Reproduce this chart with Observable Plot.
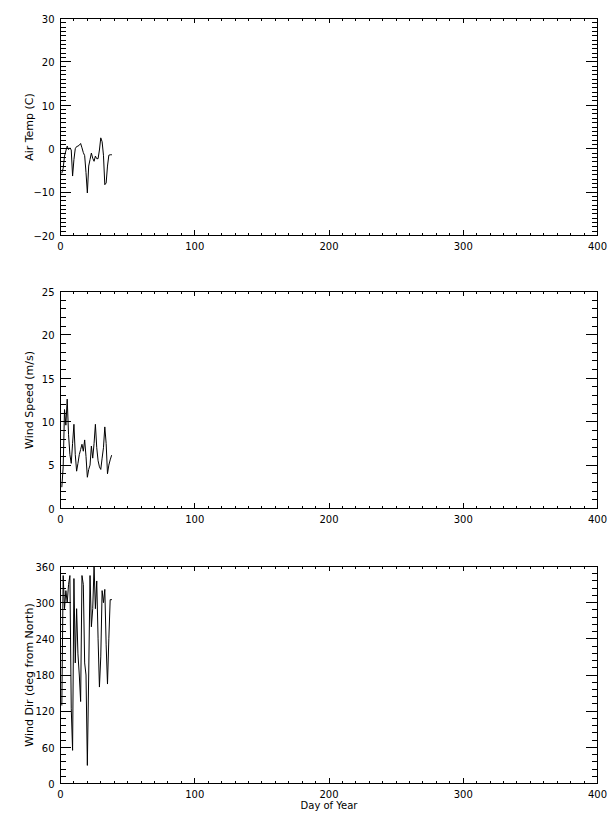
<!DOCTYPE html>
<html><head><meta charset="utf-8">
<script src="https://cdn.jsdelivr.net/npm/d3@7"></script>
<script src="https://cdn.jsdelivr.net/npm/@observablehq/plot@0.6"></script>
<style>
body{margin:0;background:#fff;}
#c{position:relative;width:615px;height:820px;background:#fff;font-family:"DejaVu Sans",sans-serif;color:#000;}
.t{position:absolute;left:0;width:615px;text-align:center;top:3px;font-size:9.7px;line-height:12px;}
.p{position:absolute;left:0;}
</style></head><body><div id="c"><div class="t">Daily Average: mkg2001.ftp.avg</div></div>
<script>
const days = [1,2,3,4,5,6,7,8,9,10,11,12,13,14,15,16,17,18,19,20,21,22,23,24,25,26,27,28,29,30,31,32,33,34,35,36,37,38];
const airTemp = [-5.6,-4.5,-1.7,-0.5,0.6,-0.2,0.2,-0.3,-6.3,-2.5,0.0,0.5,0.6,0.8,1.2,0.2,-0.9,-1.6,-5.5,-10.2,-4.0,-2.5,-1.0,-2.2,-2.9,-1.7,-2.3,-2.3,-0.3,2.5,1.6,-1.5,-8.3,-7.9,-4.0,-1.5,-1.4,-1.4];
const windSpeed = [2.5,4.8,11.4,9.6,12.6,8.5,6.2,5.2,7.5,9.7,6.2,4.3,5.2,6.2,6.8,7.4,6.6,7.9,6.0,3.6,4.5,5.0,7.2,5.8,7.5,9.7,7.0,5.5,4.8,4.5,5.8,7.0,9.4,7.5,4.0,5.0,5.6,6.1];
const windDir = [130,345,290,320,300,330,345,125,55,340,200,290,215,180,136,345,330,200,180,30,180,345,260,290,360,290,336,240,160,210,320,300,322,230,165,240,305,305];
const xTicks = [0,100,200,300,400];
const tempTicks = [-20,-10,0,10,20,30];
const speedTicks = [0,5,10,15,20,25];
const dirTicks = [0,60,120,180,240,300,360];

const FONT = '"DejaVu Sans", sans-serif';
const W = 615, ML = 60, MR = 18, MT = 18, PH = 217, PW = W - ML - MR;

function panel({values, yDomain, yMajor, yMinorStep, yLabel, top, height, xLabel}) {
  const mb = height - MT - PH;
  const data = days.map((d, i) => ({d, v: values[i]}));
  const yMinor = d3.range(yDomain[0], yDomain[1] + 1e-9, yMinorStep);
  const xMinor = d3.range(0, 401, 10);
  const k = "#000";
  const cr = "crispEdges";
  const marks = [
    Plot.frame({stroke: k, shapeRendering: cr}),
    Plot.tickY(yMinor, {y: d => d, insetRight: PW - 5.5, stroke: k, shapeRendering: cr}),
    Plot.tickY(yMinor, {y: d => d, insetLeft: PW - 5.5, stroke: k, shapeRendering: cr}),
    Plot.tickY(yMajor, {y: d => d, insetRight: PW - 11, stroke: k, shapeRendering: cr}),
    Plot.tickY(yMajor, {y: d => d, insetLeft: PW - 11, stroke: k, shapeRendering: cr}),
    Plot.tickX(xMinor, {x: d => d, insetTop: PH - 2.5, stroke: k, shapeRendering: cr}),
    Plot.tickX(xMinor, {x: d => d, insetBottom: PH - 2.5, stroke: k, shapeRendering: cr}),
    Plot.tickX(xTicks, {x: d => d, insetTop: PH - 5, stroke: k, shapeRendering: cr}),
    Plot.tickX(xTicks, {x: d => d, insetBottom: PH - 5, stroke: k, shapeRendering: cr}),
    Plot.axisX({ticks: xTicks, tickSize: 0, tickPadding: 7, tickFormat: d => String(d), fontSize: 10}),
    Plot.axisY({ticks: yMajor, tickSize: 0, tickPadding: 6, tickFormat: d => (d < 0 ? "\u2212" + (-d) : String(d)), fontSize: 10, label: null, dy: 1}),
    Plot.line(data, {x: "d", y: "v", stroke: k, strokeWidth: 1}),
    Plot.text([yLabel], {frameAnchor: "left", textAnchor: "middle", dx: -31, rotate: -90, fontSize: 11, fill: k})
  ];
  if (xLabel) marks.push(Plot.text([xLabel], {frameAnchor: "bottom", dy: 25, fontSize: 10, fill: k}));
  const svg = Plot.plot({
    width: W, height, marginLeft: ML, marginRight: MR, marginTop: MT, marginBottom: mb,
    style: {fontFamily: FONT, fontSize: "10px", color: k, background: "#fff", overflow: "visible"},
    x: {domain: [0, 400], label: null},
    y: {domain: yDomain, label: null},
    marks
  });
  svg.classList.add("p");
  svg.style.top = top + "px";
  document.getElementById("c").appendChild(svg);
}

panel({values: airTemp, yDomain: [-20, 30], yMajor: tempTicks, yMinorStep: 1, yLabel: "Air Temp (C)", top: 0, height: 273});
panel({values: windSpeed, yDomain: [0, 25], yMajor: speedTicks, yMinorStep: 1, yLabel: "Wind Speed (m/s)", top: 273, height: 275});
panel({values: windDir, yDomain: [0, 360], yMajor: dirTicks, yMinorStep: 12, yLabel: "Wind Dir (deg from North)", top: 548, height: 272, xLabel: "Day of Year"});
</script></body></html>
